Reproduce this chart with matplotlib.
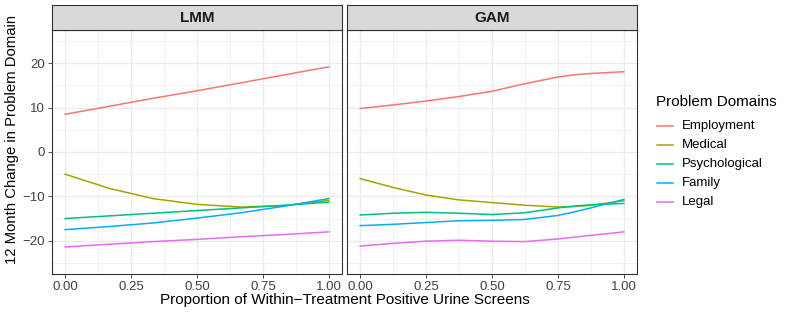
import matplotlib
matplotlib.use("Agg")
import matplotlib.pyplot as plt
from matplotlib.lines import Line2D

plt.rcParams['font.family'] = ['Liberation Sans', 'DejaVu Sans']

domains = ["Employment", "Medical", "Psychological", "Family", "Legal"]
colors = ["#F8766D", "#A3A500", "#00BF7D", "#00B0F6", "#E76BF3"]

# LMM fitted curves
lmm_x = [0.0, 0.167, 0.333, 0.5, 0.667, 0.833, 1.0]
lmm_employment = [8.5, 10.3, 12.1, 13.8, 15.6, 17.4, 19.2]
lmm_medical = [-5.0, -8.2, -10.5, -11.8, -12.4, -12.1, -10.9]
lmm_psychological = [-15.0, -14.4, -13.8, -13.2, -12.6, -12.0, -11.3]
lmm_family = [-17.5, -16.8, -16.0, -14.9, -13.7, -12.2, -10.5]
lmm_legal = [-21.4, -20.8, -20.2, -19.7, -19.1, -18.6, -18.0]

# GAM fitted curves
gam_x = [0.0, 0.125, 0.25, 0.375, 0.5, 0.625, 0.75, 0.8125, 0.875, 1.0]
gam_employment = [9.8, 10.6, 11.5, 12.5, 13.7, 15.4, 16.9, 17.4, 17.7, 18.1]
gam_medical = [-6.0, -8.0, -9.7, -10.8, -11.4, -12.0, -12.4, -12.3, -12.0, -11.0]
gam_psychological = [-14.2, -13.8, -13.6, -13.8, -14.1, -13.7, -12.6, -12.2, -11.9, -11.6]
gam_family = [-16.6, -16.3, -15.9, -15.5, -15.4, -15.2, -14.3, -13.5, -12.6, -10.7]
gam_legal = [-21.2, -20.6, -20.1, -19.9, -20.1, -20.2, -19.6, -19.2, -18.8, -18.0]

panels = [
    ("LMM", lmm_x, [lmm_employment, lmm_medical, lmm_psychological, lmm_family, lmm_legal]),
    ("GAM", gam_x, [gam_employment, gam_medical, gam_psychological, gam_family, gam_legal]),
]

xticks = [0.0, 0.25, 0.5, 0.75, 1.0]
xticklabels = ["0.00", "0.25", "0.50", "0.75", "1.00"]
yticks = [-20, -10, 0, 10, 20]
yticklabels = ["\u221220", "\u221210", "0", "10", "20"]

W, H = 789, 316
fig = plt.figure(figsize=(W / 100, H / 100), dpi=100)

panel_lefts = [52, 347]
panel_w = 290
panel_top, panel_bottom = 30, 274
strip_top = 5

axes = []
for (name, xs, series), left in zip(panels, panel_lefts):
    ax = fig.add_axes([left / W, (H - panel_bottom) / H, panel_w / W,
                       (panel_bottom - panel_top) / H])
    ax.set_facecolor("white")
    for ys, c, lab in zip(series, colors, domains):
        ax.plot(xs, ys, color=c, lw=1.1, label=lab)
    ax.set_xlim(-0.05, 1.05)
    ax.set_ylim(-27.5, 27.5)
    ax.set_xticks(xticks)
    ax.set_xticklabels(xticklabels)
    ax.set_yticks(yticks)
    ax.set_xticks([0.125, 0.375, 0.625, 0.875], minor=True)
    ax.set_yticks([-25, -15, -5, 5, 15, 25], minor=True)
    ax.grid(True, which="major", color="#EBEBEB", lw=0.9)
    ax.grid(True, which="minor", color="#EBEBEB", lw=0.45)
    ax.set_axisbelow(True)
    ax.tick_params(which="minor", length=0)
    ax.tick_params(which="major", length=3, width=0.6, color="#333333",
                   labelsize=9.5, labelcolor="#404040", pad=2)
    for sp in ax.spines.values():
        sp.set_color("#333333")
        sp.set_linewidth(0.8)
    if left == panel_lefts[0]:
        ax.set_yticklabels(yticklabels)
    else:
        ax.set_yticklabels([])
        ax.tick_params(axis="y", length=0)

    sax = fig.add_axes([left / W, (H - panel_top) / H, panel_w / W,
                        (panel_top - strip_top) / H])
    sax.set_facecolor("#D9D9D9")
    sax.set_xticks([])
    sax.set_yticks([])
    for sp in sax.spines.values():
        sp.set_color("#333333")
        sp.set_linewidth(0.8)
    sax.text(0.5, 0.5, name, ha="center", va="center", fontsize=11,
             fontweight="bold", color="#1A1A1A", transform=sax.transAxes)
    axes.append(ax)

fig.text(12 / W, (H - 139.5) / H, "12 Month Change in Problem Domain",
         rotation=90, ha="center", va="center", fontsize=10.7, color="black")
fig.text(345 / W, (H - 300) / H,
         "Proportion of Within\u2212Treatment Positive Urine Screens",
         ha="center", va="center", fontsize=11, color="black")

# legend drawn by hand to match ggplot's spacing
fig.text(656 / W, (H - 101.5) / H, "Problem Domains", ha="left", va="center",
         fontsize=11, color="black")
for i, (lab, c) in enumerate(zip(domains, colors)):
    yy = (H - (125.7 + 19 * i)) / H
    fig.add_artist(Line2D([657 / W, 673 / W], [yy, yy], color=c, lw=1.1,
                          transform=fig.transFigure))
    fig.text(682 / W, yy, lab, ha="left", va="center", fontsize=9.5,
             color="black")

fig.savefig("out.png", dpi=100)
